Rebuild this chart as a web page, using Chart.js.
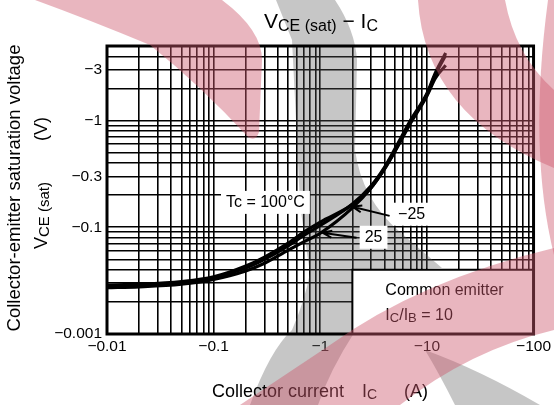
<!DOCTYPE html>
<html>
<head>
<meta charset="utf-8">
<script src="https://cdn.jsdelivr.net/npm/chart.js@4.4.0/dist/chart.umd.min.js"></script>
<style>
  html, body { margin: 0; padding: 0; background: #fff; }
  #wrap { width: 554px; height: 405px; }
</style>
</head>
<body>
<div id="wrap"><canvas id="chart" width="554" height="405"></canvas></div>
<script>
// Collector current |IC| (A) - the axes are labelled with negative values
const icValues = [0.01, 0.02, 0.05, 0.1, 0.2, 0.3, 0.5, 0.7, 1, 2, 3, 4, 5, 7, 10, 12, 15];
// |VCE(sat)| (V) for each case temperature
const vce100 = [0.0288, 0.0293, 0.031, 0.0343, 0.0433, 0.0525, 0.071, 0.090, 0.112, 0.163, 0.235, 0.355, 0.52, 0.97, 1.75, 2.7, 4.1];
const vce25 = [0.0272, 0.0277, 0.0293, 0.0325, 0.039, 0.046, 0.061, 0.073, 0.088, 0.152, 0.235, 0.35, 0.51, 0.94, 1.7, 2.5, 3.3];
const vceM25 = [0.0280, 0.0285, 0.0302, 0.0336, 0.0415, 0.050, 0.067, 0.084, 0.104, 0.165, 0.245, 0.365, 0.54, 1.0, 1.8, 2.8, 4.3];

const xTickValues = [0.01, 0.1, 1, 10, 100];
const xTickLabels = ['−0.01', '−0.1', '−1', '−10', '−100'];
const yTickValues = [0.01, 0.1, 0.3, 1, 3];
const yTickLabels = ['−0.001', '−0.1', '−0.3', '−1', '−3'];

// where the annotations sit, in data units (|IC|, |VCE|)
const noteTc = { x: 0.306, y: 0.173, text: 'Tc = 100°C' };
const noteM25 = { x: 7.2, y: 0.134, text: '−25', from: [4.47, 0.128], to: [2.0, 0.156] };
const note25 = { x: 3.16, y: 0.0815, text: '25', from: [2.19, 0.0797], to: [1.05, 0.0888] };
const boxCorner = [2.0, 0.04];

const FONT = 'Liberation Sans, Arial, sans-serif';

function logGrid(min, max) {
    const out = [];
    for (let e = Math.floor(Math.log10(min)); e <= Math.ceil(Math.log10(max)); e++) {
        for (let d = 1; d <= 9; d++) {
            const v = +(d * Math.pow(10, e)).toPrecision(3);
            if (v >= min - 1e-12 && v <= max + 1e-12) out.push(v);
        }
    }
    return out;
}

function labelFor(v, values, labels) {
    for (let i = 0; i < values.length; i++) {
        if (Math.abs(Math.log10(v) - Math.log10(values[i])) < 1e-6) return labels[i];
    }
    return '';
}

function pts(ys) {
    return icValues.map((x, i) => ({ x: x, y: ys[i] }));
}

// draws text made of pieces with different sizes (for the subscripts)
function drawRich(ctx, parts, x, y, align) {
    let w = 0;
    parts.forEach(p => {
        if (p.gap) { p.w = p.gap; } else {
            ctx.font = p.size + 'px ' + FONT;
            p.w = ctx.measureText(p.t).width;
        }
        w += p.w;
    });
    let cx = align === 'center' ? x - w / 2 : x;
    ctx.textAlign = 'left';
    ctx.textBaseline = 'alphabetic';
    parts.forEach(p => {
        if (!p.gap) {
            ctx.font = p.size + 'px ' + FONT;
            ctx.fillText(p.t, cx, y + (p.dy || 0));
        }
        cx += p.w;
    });
}

function arrow(ctx, x1, y1, x2, y2) {
    ctx.save();
    ctx.strokeStyle = '#000';
    ctx.lineWidth = 2;
    ctx.beginPath();
    ctx.moveTo(x1, y1);
    ctx.lineTo(x2, y2);
    const a = Math.atan2(y2 - y1, x2 - x1);
    const len = 10;
    ctx.moveTo(x2 - len * Math.cos(a - 0.35), y2 - len * Math.sin(a - 0.35));
    ctx.lineTo(x2, y2);
    ctx.lineTo(x2 - len * Math.cos(a + 0.35), y2 - len * Math.sin(a + 0.35));
    ctx.stroke();
    ctx.restore();
}

// background watermark, grey part (sits under the label boxes)
function drawGrey(ctx) {
    ctx.save();
    ctx.fillStyle = 'rgba(88,88,88,0.34)';
    ctx.beginPath();
    ctx.moveTo(276, 0);
    ctx.lineTo(335, 0);
    ctx.quadraticCurveTo(355, 30, 357, 60);
    ctx.lineTo(355, 150);
    ctx.quadraticCurveTo(362, 200, 400, 232);
    ctx.lineTo(442, 268);
    ctx.lineTo(354, 270);
    ctx.lineTo(354, 333);
    ctx.quadraticCurveTo(330, 370, 318, 405);
    ctx.lineTo(250, 405);
    ctx.quadraticCurveTo(270, 350, 292, 330);
    ctx.quadraticCurveTo(305, 300, 310, 273);
    ctx.lineTo(300, 205);
    ctx.lineTo(297, 140);
    ctx.lineTo(292, 40);
    ctx.closePath();
    ctx.fill();

    ctx.beginPath();
    ctx.moveTo(425, 350);
    ctx.quadraticCurveTo(480, 370, 540, 405);
    ctx.lineTo(455, 405);
    ctx.quadraticCurveTo(440, 375, 425, 350);
    ctx.closePath();
    ctx.fill();
    ctx.restore();
}

// background watermark, pink part (tints everything under it)
function drawPink(ctx) {
    ctx.save();
    ctx.fillStyle = 'rgba(204,88,109,0.44)';
    ctx.beginPath();
    ctx.moveTo(35, 0);
    ctx.lineTo(222, 0);
    ctx.quadraticCurveTo(262, 30, 262, 60);
    ctx.lineTo(259, 132);
    ctx.quadraticCurveTo(256, 142, 248, 137);
    ctx.quadraticCurveTo(200, 85, 150, 45);
    ctx.quadraticCurveTo(90, 20, 35, 0);
    ctx.closePath();
    ctx.fill();

    ctx.beginPath();
    ctx.moveTo(418, 0);
    ctx.quadraticCurveTo(425, 115, 554, 168);
    ctx.lineTo(554, 90);
    ctx.quadraticCurveTo(515, 55, 505, 0);
    ctx.closePath();
    ctx.fill();

    ctx.beginPath();
    ctx.moveTo(548, 0);
    ctx.quadraticCurveTo(528, 150, 554, 255);
    ctx.lineTo(554, 0);
    ctx.closePath();
    ctx.fill();

    ctx.beginPath();
    ctx.moveTo(554, 248);
    ctx.quadraticCurveTo(420, 280, 330, 345);
    ctx.quadraticCurveTo(270, 385, 240, 405);
    ctx.lineTo(400, 405);
    ctx.quadraticCurveTo(470, 350, 554, 330);
    ctx.closePath();
    ctx.fill();
    ctx.restore();
}

const decor = {
    id: 'decor',
    beforeDraw(chart) {
        const ctx = chart.ctx;
        ctx.save();
        ctx.fillStyle = '#fff';
        ctx.fillRect(0, 0, chart.width, chart.height);
        ctx.restore();
    },
    beforeDatasetsDraw(chart) {
        const ctx = chart.ctx;
        const xs = chart.scales.x, ys = chart.scales.y;
        const area = chart.chartArea;
        drawGrey(ctx);
        ctx.save();
        ctx.fillStyle = '#fff';
        ctx.font = '16px ' + FONT;
        [noteTc, noteM25, note25].forEach(n => {
            const w = ctx.measureText(n.text).width;
            const px = xs.getPixelForValue(n.x), py = ys.getPixelForValue(n.y);
            ctx.fillRect(px - w / 2 - 5, py - 11, w + 10, 23);
        });
        // "Common emitter" box
        const bx = xs.getPixelForValue(boxCorner[0]);
        const by = ys.getPixelForValue(boxCorner[1]);
        ctx.fillRect(bx, by, area.right - bx, area.bottom - by);
        ctx.strokeStyle = '#000';
        ctx.lineWidth = 2;
        ctx.beginPath();
        ctx.moveTo(bx, area.bottom);
        ctx.lineTo(bx, by);
        ctx.lineTo(area.right, by);
        ctx.stroke();
        // frame
        ctx.lineWidth = 3;
        ctx.strokeRect(area.left, area.top, area.right - area.left, area.bottom - area.top);
        ctx.restore();
    },
    afterDatasetsDraw(chart) {
        const ctx = chart.ctx;
        const xs = chart.scales.x, ys = chart.scales.y;
        ctx.save();
        ctx.fillStyle = '#000';
        ctx.font = '16px ' + FONT;
        ctx.textAlign = 'center';
        ctx.textBaseline = 'middle';
        [noteTc, noteM25, note25].forEach(n => {
            ctx.fillText(n.text, xs.getPixelForValue(n.x), ys.getPixelForValue(n.y) + 1);
        });
        [noteM25, note25].forEach(n => {
            arrow(ctx, xs.getPixelForValue(n.from[0]), ys.getPixelForValue(n.from[1]),
                xs.getPixelForValue(n.to[0]), ys.getPixelForValue(n.to[1]));
        });
        const bx = xs.getPixelForValue(boxCorner[0]);
        drawRich(ctx, [{ t: 'Common emitter', size: 16 }], bx + 33, ys.getPixelForValue(0.0232), 'left');
        drawRich(ctx, [{ t: 'I', size: 16 }, { t: 'C', size: 13, dy: 2 }, { t: '/I', size: 16 },
            { t: 'B', size: 13, dy: 2 }, { t: ' = 10', size: 16 }], bx + 33, ys.getPixelForValue(0.0135), 'left');
        ctx.restore();
    },
    afterDraw(chart) {
        const ctx = chart.ctx;
        ctx.save();
        ctx.fillStyle = '#000';
        // main title
        drawRich(ctx, [{ t: 'V', size: 21 }, { t: 'CE (sat)', size: 16, dy: 3 }, { t: ' − I', size: 21 },
            { t: 'C', size: 16, dy: 3 }], 321, 28, 'center');
        // x title
        drawRich(ctx, [{ t: 'Collector current', size: 18 }, { gap: 18 }, { t: 'I', size: 18 },
            { t: 'C', size: 14, dy: 2 }, { gap: 27 }, { t: '(A)', size: 18 }], 320, 397, 'center');
        // y titles (rotated)
        ctx.save();
        ctx.translate(20, 188);
        ctx.rotate(-Math.PI / 2);
        drawRich(ctx, [{ t: 'Collector-emitter saturation voltage', size: 18.5 }], 0, 0, 'center');
        ctx.restore();
        ctx.save();
        ctx.translate(47, 0);
        ctx.rotate(-Math.PI / 2);
        drawRich(ctx, [{ t: 'V', size: 18 }, { t: 'CE (sat)', size: 15, dy: 2 }], -249, 0, 'left');
        drawRich(ctx, [{ t: '(V)', size: 18 }], -141, 0, 'left');
        ctx.restore();
        ctx.restore();
        drawPink(ctx);
    }
};

const ctx = document.getElementById('chart').getContext('2d');
const chart = new Chart(ctx, {
    type: 'line',
    data: {
        datasets: [
            { label: 'Tc = 100°C', data: pts(vce100) },
            { label: '25', data: pts(vce25) },
            { label: '−25', data: pts(vceM25) }
        ].map(d => Object.assign(d, {
            borderColor: '#000',
            borderWidth: 3.2,
            pointRadius: 0,
            fill: false,
            cubicInterpolationMode: 'monotone'
        }))
    },
    plugins: [decor],
    options: {
        responsive: false,
        animation: false,
        devicePixelRatio: 1,
        layout: { padding: { left: 0, right: 20, top: 46, bottom: 0 } },
        plugins: {
            legend: { display: false },
            tooltip: { enabled: false }
        },
        scales: {
            x: {
                type: 'logarithmic',
                min: 0.01,
                max: 100,
                afterBuildTicks: s => { s.ticks = logGrid(0.01, 100).map(v => ({ value: v })); },
                afterFit: s => { s.height = 71; },
                ticks: {
                    autoSkip: false,
                    maxRotation: 0,
                    minRotation: 0,
                    padding: 3,
                    color: '#000',
                    font: { family: FONT, size: 15.5 },
                    callback: v => labelFor(v, xTickValues, xTickLabels)
                },
                grid: { color: '#000', lineWidth: 1.6, drawTicks: false },
                border: { display: false }
            },
            y: {
                type: 'logarithmic',
                min: 0.01,
                max: 5,
                afterBuildTicks: s => { s.ticks = logGrid(0.01, 5).map(v => ({ value: v })); },
                afterFit: s => { s.width = 107; },
                ticks: {
                    autoSkip: false,
                    padding: 5,
                    color: '#000',
                    font: { family: FONT, size: 15.5 },
                    callback: v => labelFor(v, yTickValues, yTickLabels)
                },
                grid: { color: '#000', lineWidth: 1.6, drawTicks: false },
                border: { display: false }
            }
        }
    }
});
</script>
</body>
</html>
